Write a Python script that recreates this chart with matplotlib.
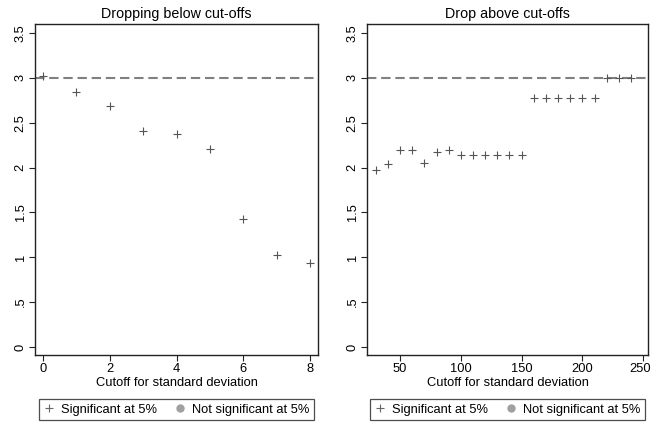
import matplotlib

matplotlib.use("Agg")
import matplotlib.pyplot as plt
import matplotlib.transforms as mtransforms
from matplotlib.lines import Line2D

plt.rcParams["font.family"] = ["Liberation Sans", "DejaVu Sans"]

# cut-off values and estimated coefficients
below_cutoffs = [0, 1, 2, 3, 4, 5, 6, 7, 8]
below_coefs = [3.02, 2.84, 2.69, 2.41, 2.37, 2.21, 1.43, 1.02, 0.94]

above_cutoffs = [30, 40, 50, 60, 70, 80, 90, 100, 110, 120, 130, 140, 150,
                 160, 170, 180, 190, 200, 210, 220, 230, 240]
above_coefs = [1.97, 2.04, 2.19, 2.19, 2.05, 2.17, 2.20, 2.14, 2.14, 2.14,
               2.14, 2.14, 2.14, 2.77, 2.77, 2.77, 2.77, 2.77, 2.77, 3.0,
               3.0, 3.0]

baseline = 3.0
y_ticks = [0, 0.5, 1, 1.5, 2, 2.5, 3, 3.5]
y_ticklabels = ["0", ".5", "1", "1.5", "2", "2.5", "3", "3.5"]

MARK = "#555555"
LINE = "#808080"
FS = 9.3

W, H = 652, 423
fig = plt.figure(figsize=(W / 100, H / 100), dpi=100, facecolor="white")


def panel(px_left, px_right, title, xs, ys, xticks, xlim):
    ax = fig.add_axes([px_left / W, (H - 355) / H,
                       (px_right - px_left) / W, (355 - 24) / H])
    ax.axhline(baseline, color=LINE, linestyle=(0, (4.5, 2.3)), linewidth=1.5,
               zorder=1)
    ax.scatter(xs, ys, marker="+", s=30, color=MARK, linewidths=0.8, zorder=3)
    ax.set_xlim(*xlim)
    ax.set_ylim(-0.09, 3.6)
    ax.set_xticks(xticks)
    ax.set_yticks(y_ticks)
    ax.set_yticklabels(y_ticklabels, rotation=90, va="center")
    ax.tick_params(axis="both", labelsize=FS, length=4, width=0.8,
                   direction="out", color="#222222", pad=2)
    for sp in ax.spines.values():
        sp.set_linewidth(1.0)
        sp.set_color("#222222")
    ax.set_title(title, fontsize=10.3, pad=4)
    ax.set_xlabel("Cutoff for standard deviation", fontsize=FS, labelpad=1)

    handles = [
        Line2D([], [], marker="+", color="#666666", linestyle="none",
               markersize=6, markeredgewidth=0.8),
        Line2D([], [], marker="o", color="#a0a0a0", linestyle="none",
               markersize=5),
    ]
    leg = fig.legend(handles, ["Significant at 5%", "Not significant at 5%"],
                     loc="upper center",
                     bbox_to_anchor=((px_left + px_right) / 2 / W,
                                     (H - 399) / H),
                     ncol=2, fontsize=FS, frameon=True, fancybox=False,
                     borderaxespad=0, handlelength=0.8, handletextpad=0.53,
                     columnspacing=1.38, borderpad=0.35)
    leg.get_frame().set_edgecolor("#222222")
    leg.get_frame().set_linewidth(0.9)
    return ax


panel(35, 318, "Dropping below cut-offs", below_cutoffs, below_coefs,
      [0, 2, 4, 6, 8], (-0.24, 8.24))
ax_r = panel(367, 648, "Drop above cut-offs", above_cutoffs, above_coefs,
             [50, 100, 150, 200, 250], (22.8, 254))

# keep the last tick label inside the figure edge
last = ax_r.get_xticklabels()[-1]
last.set_transform(last.get_transform()
                   + mtransforms.ScaledTranslation(-3 / 100, 0,
                                                   fig.dpi_scale_trans))

fig.savefig("out.png", dpi=100, facecolor="white")
